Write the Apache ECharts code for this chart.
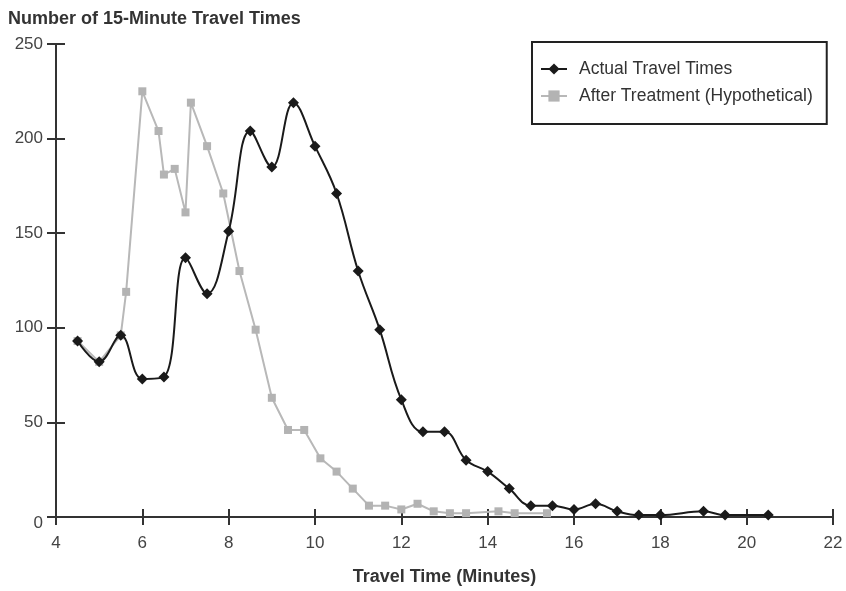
<!DOCTYPE html>
<html>
<head>
    <meta charset="utf-8">
    <title>Travel Times</title>
    <script src="https://cdn.jsdelivr.net/npm/echarts@6/dist/echarts.min.js"></script>
    <style>
        html, body { margin: 0; padding: 0; background: #fff; }
        #chart { width: 846px; height: 591px; }
    </style>
</head>
<body>
    <div id="chart"></div>

    <script type="text/javascript">
        // actual travel times
        var actualX = [4.5, 5, 5.5, 6, 6.5, 7, 7.5, 8, 8.5, 9, 9.5, 10, 10.5, 11, 11.5, 12, 12.5, 13, 13.5, 14, 14.5, 15, 15.5, 16, 16.5, 17, 17.5, 18, 19, 19.5, 20.5];
        var actualY = [93, 82, 96, 73, 74, 137, 118, 151, 204, 185, 219, 196, 171, 130, 99, 62, 45, 45, 30, 24, 15, 6, 6, 4, 7, 3, 1, 1, 3, 1, 1];
        // after treatment (hypothetical)
        var afterX = [4.5, 5, 5.5, 5.625, 6, 6.375, 6.5, 6.75, 7, 7.125, 7.5, 7.875, 8.25, 8.625, 9, 9.375, 9.75, 10.125, 10.5, 10.875, 11.25, 11.625, 12, 12.375, 12.75, 13.125, 13.5, 14.25, 14.625, 15.375];
        var afterY = [93, 82, 96, 119, 225, 204, 181, 184, 161, 219, 196, 171, 130, 99, 63, 46, 46, 31, 24, 15, 6, 6, 4, 7, 3, 2, 2, 3, 2, 2];

        var seriesNames = ['Actual Travel Times', 'After Treatment (Hypothetical)'];

        function pairs(xs, ys) {
            var out = [];
            for (var i = 0; i < xs.length; i++) {
                out.push([xs[i], ys[i]]);
            }
            return out;
        }

        var font = 'Liberation Sans, Arial, sans-serif';
        var axisColor = '#333';

        var xBase = {
            type: 'value', min: 4, max: 22, interval: 2,
            splitLine: { show: false }
        };
        var yBase = {
            type: 'value', min: 0, max: 250, interval: 50,
            splitLine: { show: false }
        };

        var chart = echarts.init(document.getElementById('chart'));
        chart.setOption({
            animation: false,
            grid: { left: 56, right: 13, top: 44, bottom: 69 },
            title: {
                text: 'Number of 15-Minute Travel Times',
                left: 8, top: 10, padding: 0,
                textStyle: { fontFamily: font, fontSize: 18, fontWeight: 'bold', color: '#333' }
            },
            legend: {
                data: seriesNames,
                orient: 'vertical',
                left: 532, top: 42,
                padding: [18, 14, 19, 8],
                itemGap: 9,
                itemWidth: 26, itemHeight: 14,
                borderColor: '#222', borderWidth: 2,
                textStyle: { fontFamily: font, fontSize: 17.5, color: '#333', padding: [0, 0, 0, 7] }
            },
            xAxis: [
                Object.assign({}, xBase, {
                    name: 'Travel Time (Minutes)',
                    nameLocation: 'middle', nameGap: 51,
                    nameTextStyle: { fontFamily: font, fontSize: 18, fontWeight: 'bold', color: '#333' },
                    axisLine: { show: true, lineStyle: { color: axisColor, width: 2 } },
                    axisTick: { show: true, length: 8, lineStyle: { color: axisColor, width: 2 } },
                    axisLabel: { margin: 18, fontFamily: font, fontSize: 17, color: '#444' }
                }),
                Object.assign({}, xBase, {
                    position: 'bottom',
                    axisLine: { show: false },
                    axisTick: { show: true, inside: true, length: 8, lineStyle: { color: axisColor, width: 2 } },
                    axisLabel: { show: false }
                })
            ],
            yAxis: [
                Object.assign({}, yBase, {
                    axisLine: { show: true, lineStyle: { color: axisColor, width: 2 } },
                    axisTick: { show: true, length: 9, lineStyle: { color: axisColor, width: 2 } },
                    axisLabel: {
                        margin: 13, fontFamily: font, fontSize: 17, color: '#444',
                        formatter: function (v) { return v === 0 ? '{zero|0}' : String(v); },
                        rich: { zero: { fontFamily: font, fontSize: 17, color: '#444', padding: [12, 0, 0, 0] } }
                    }
                }),
                Object.assign({}, yBase, {
                    position: 'left',
                    axisLine: { show: false },
                    axisTick: { show: true, inside: true, length: 9, lineStyle: { color: axisColor, width: 2 } },
                    axisLabel: { show: false }
                })
            ],
            series: [
                {
                    name: seriesNames[0],
                    type: 'line',
                    z: 3,
                    smooth: 0.4,
                    data: pairs(actualX, actualY),
                    symbol: 'diamond',
                    symbolSize: 11,
                    itemStyle: { color: '#1a1a1a' },
                    lineStyle: { color: '#1a1a1a', width: 2 }
                },
                {
                    name: seriesNames[1],
                    type: 'line',
                    z: 2,
                    data: pairs(afterX, afterY),
                    symbol: 'rect',
                    symbolSize: 8,
                    itemStyle: { color: '#b3b3b3' },
                    lineStyle: { color: '#b8b8b8', width: 2 }
                }
            ]
        });
    </script>
</body>
</html>
